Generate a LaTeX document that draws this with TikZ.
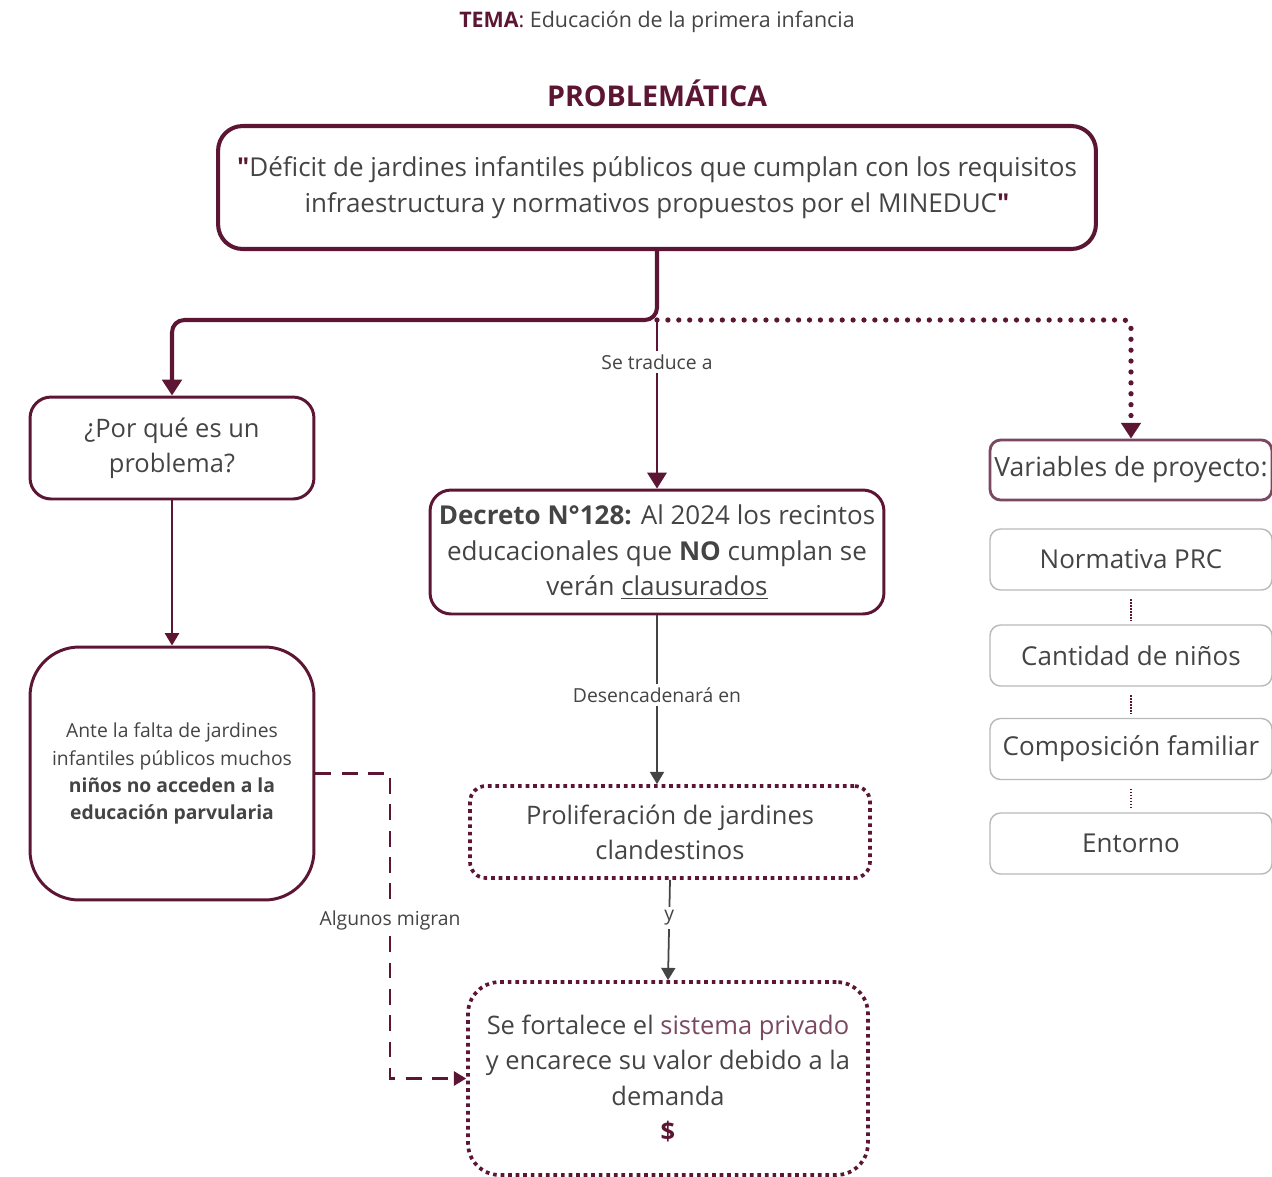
\documentclass[tikz,border=0pt]{standalone}
\usepackage{fontspec}
\setmainfont{Open Sans}
\usetikzlibrary{arrows.meta}
\definecolor{vino}{RGB}{92,22,52}
\definecolor{vinoclaro}{RGB}{122,72,96}
\definecolor{texto}{RGB}{68,68,68}
\definecolor{borde}{RGB}{185,185,185}

\begin{document}
\begin{tikzpicture}[x=0.02cm,y=-0.02cm,
  caja/.style={draw=vino,line width=1.7pt,rounded corners=12pt,align=center,text=texto,inner sep=2pt,font=\fontsize{14.5}{20}\selectfont},
  punteada/.style={caja,line width=2.1pt,dash pattern=on 2.1pt off 2.2pt},
  varcaja/.style={draw=borde,line width=0.8pt,rounded corners=6pt,minimum width=5.64cm,minimum height=1.22cm,text=texto,inner sep=1pt,font=\fontsize{14.8}{20}\selectfont},
  etiqueta/.style={fill=white,text=texto,font=\fontsize{11}{13}\selectfont,inner sep=2pt},
  flecha/.style={-{Triangle[length=9pt,width=11pt]}},
  flechita/.style={-{Triangle[length=7pt,width=8pt]}}]
\useasboundingbox (0,0) rectangle (1272,1177);

% titulos
\path (657,22) node (tema) [text=texto,font=\fontsize{12.2}{14}\selectfont] {\textcolor{vino}{\textbf{TEMA}:} Educación de la primera infancia};
\path (657,93) node (problematica) [text=vino,font=\fontsize{16.3}{19}\bfseries] {PROBLEMÁTICA};

% cajas centrales
\path (657,187.5) node (deficit) [caja,line width=2.3pt,rounded corners=14pt,minimum width=17.56cm,minimum height=2.46cm,font=\fontsize{14.8}{20.5}\selectfont] {\textcolor{vino}{\textbf{\textquotedbl}}Déficit de jardines infantiles públicos que cumplan con los requisitos\\infraestructura y normativos propuestos por el MINEDUC\textcolor{vino}{\textbf{\textquotedbl}}};
\path (172,448) node (porque) [caja,minimum width=5.68cm,minimum height=2.04cm] {¿Por qué es un\\problema?};
\path (172,773.5) node (ante) [caja,rounded corners=28pt,minimum width=5.68cm,minimum height=5.06cm,font=\fontsize{11}{15.4}\selectfont] {Ante la falta de jardines\\infantiles públicos muchos\\\textbf{niños no acceden a la}\\\textbf{educación parvularia}};
\path (657,552) node (decreto) [caja,minimum width=9.08cm,minimum height=2.48cm,font=\fontsize{14.8}{20}\selectfont] {\textbf{Decreto N°128:} Al 2024 los recintos\\educacionales que \textbf{NO} cumplan se\\verán \underline{clausurados}};
\path (670,832) node (prolif) [punteada,rounded corners=9pt,minimum width=8cm,minimum height=1.84cm] {Proliferación de jardines\\clandestinos};
\path (668,1078.5) node (fortalece) [punteada,rounded corners=18pt,minimum width=8cm,minimum height=3.86cm] {Se fortalece el \textcolor{vinoclaro}{sistema privado}\\y encarece su valor debido a la\\demanda\\\textcolor{vino}{\textbf{\$}}};

% variables
\path (1131,470) node (variables) [varcaja,draw=vinoclaro,line width=1.6pt,minimum height=1.2cm,font=\fontsize{15.1}{20}\selectfont] {Variables de proyecto:};
\path (1131,559.5) node (normativa) [varcaja] {Normativa PRC};
\path (1131,655.5) node (cantidad) [varcaja] {Cantidad de niños};
\path (1131,749) node (composicion) [varcaja] {Composición familiar};
\path (1131,843.5) node (entorno) [varcaja] {Entorno};

\coordinate (nudo) at (657,320);
\coordinate (migra) at (390,920);

% conectores
\draw [vino,line width=2.3pt,rounded corners=7pt,flecha] (deficit.south) -- (nudo) -| (porque.north);
\draw [vino,line width=3pt,line cap=round,dash pattern=on 0pt off 6.2pt,rounded corners=4pt,flecha] (nudo) -| (variables.north);
\draw [vino,line width=1.1pt,flecha] (nudo) -- node [etiqueta,pos=0.25] {Se traduce a} (decreto.north);
\draw [vino,line width=1.1pt,flechita] (porque) -- (ante);
\draw [texto,line width=1pt,flechita] (decreto.south) -- node [etiqueta,pos=0.47] {Desencadenará en} (decreto.south |- prolif.north);
\draw [texto,line width=1pt,flechita] (prolif.south) -- node [etiqueta,pos=0.38] {y} (fortalece.north);
\draw [vino,line width=1.5pt,dash pattern=on 9pt off 6pt,flechita] (ante.east) -| (migra) node [etiqueta] {Algunos migran} |- (fortalece.west);
\draw [vino,line width=0.7pt,densely dotted,shorten <=5pt,shorten >=2pt] (normativa) -- (cantidad);
\draw [vino,line width=0.7pt,densely dotted,shorten <=5pt,shorten >=2pt] (cantidad) -- (composicion);
\draw [vino,line width=0.7pt,densely dotted,shorten <=5pt,shorten >=2pt] (composicion) -- (entorno);
\end{tikzpicture}
\end{document}
